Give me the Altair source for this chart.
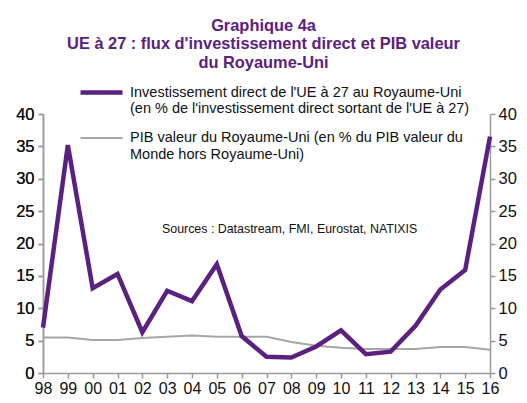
import altair as alt
import pandas as pd

years = ["98", "99", "00", "01", "02", "03", "04", "05", "06", "07",
         "08", "09", "10", "11", "12", "13", "14", "15", "16"]
invest = [7.0, 35.2, 13.1, 15.3, 6.3, 12.7, 11.1, 16.8, 5.7, 2.5,
          2.4, 4.1, 6.6, 2.9, 3.3, 7.3, 12.9, 15.9, 36.5]
gdp = [5.5, 5.5, 5.1, 5.1, 5.4, 5.6, 5.8, 5.6, 5.6, 5.6,
       4.8, 4.2, 3.9, 3.7, 3.7, 3.7, 4.0, 4.0, 3.6]
series = [
    "Investissement direct de l'UE à 27 au Royaume-Uni|(en % de l'investissement direct sortant de l'UE à 27)",
    "PIB valeur du Royaume-Uni (en % du PIB valeur du|Monde hors Royaume-Uni)",
]
title_lines = ["Graphique 4a",
               "UE à 27 : flux d'investissement direct et PIB valeur",
               "du Royaume-Uni"]
source_note = "Sources : Datastream, FMI, Eurostat, NATIXIS"
y_ticks = [0, 5, 10, 15, 20, 25, 30, 35, 40]

PURPLE = "#5b2181"
GRAY = "#a6a6a6"
AXIS_GRAY = "#9a9a9a"
FONT = "Liberation Sans"

df_inv = pd.DataFrame({"year": years, "value": invest, "series": series[0]})
df_gdp = pd.DataFrame({"year": years, "value": gdp, "series": series[1]})

x_enc = alt.X("year:O", sort=years, title=None,
              scale=alt.Scale(type="point", padding=0),
              axis=alt.Axis(labelAngle=0, domainColor=AXIS_GRAY, tickColor=AXIS_GRAY,
                            tickSize=5, labelPadding=2, labelFontSize=16, labelFont=FONT,
                            labelColor="#111", grid=False, domainWidth=1.5, tickWidth=1.5))

legend = alt.Legend(orient="none", legendX=35, legendY=-45,
                    symbolType="stroke", symbolSize=1764,
                    labelExpr="split(datum.label, '|')",
                    labelFontSize=14.5, labelFont=FONT, labelColor="#111",
                    labelLimit=0, labelOffset=5, rowPadding=-2,
                    padding=0, title=None)

color_enc = alt.Color("series:N", title=None,
                      scale=alt.Scale(domain=series, range=[PURPLE, GRAY]),
                      legend=legend)
sw_enc = alt.StrokeWidth("series:N", title=None,
                         scale=alt.Scale(domain=series, range=[4.5, 2]),
                         legend=legend)


def y_enc(orient):
    return alt.Y("value:Q", title=None,
                 scale=alt.Scale(domain=[0, 40], nice=False),
                 axis=alt.Axis(orient=orient, values=y_ticks, grid=False,
                               domainColor=AXIS_GRAY, tickColor=AXIS_GRAY, tickSize=5,
                               labelPadding=4 if orient == "left" else 3,
                               labelFontSize=16.5, labelFont=FONT,
                               labelColor="#111", domainWidth=1.5, tickWidth=1.5))


gdp_line = alt.Chart(df_gdp).mark_line().encode(
    x=x_enc, y=y_enc("left"), color=color_enc, strokeWidth=sw_enc)
inv_line = alt.Chart(df_inv).mark_line(strokeJoin="miter").encode(
    x=x_enc, y=y_enc("left"), color=color_enc, strokeWidth=sw_enc)
right_axis = alt.Chart(df_inv).mark_line(strokeOpacity=0).encode(
    x=x_enc, y=y_enc("right"))

note = alt.Chart(pd.DataFrame({"t": [source_note]})).mark_text(
    align="left", baseline="middle", fontSize=12.4, font=FONT, color="#111"
).encode(text="t:N", x=alt.value(119), y=alt.value(115))

chart = alt.layer(gdp_line, inv_line, right_axis, note).resolve_scale(
    y="shared"
).resolve_axis(y="independent").properties(
    width=447, height=259,
    autosize=alt.AutoSizeParams(type="none"),
    padding={"left": 35, "top": 106, "right": 29, "bottom": 22},
    title=alt.TitleParams(text=title_lines, fontSize=16.4, font=FONT, fontWeight="bold",
                          color=PURPLE, anchor="middle", offset=-2, lineHeight=18.5, dx=-3),
).configure_view(stroke=None)

chart.save("out.html", embed_options={"renderer": "svg", "actions": False})
